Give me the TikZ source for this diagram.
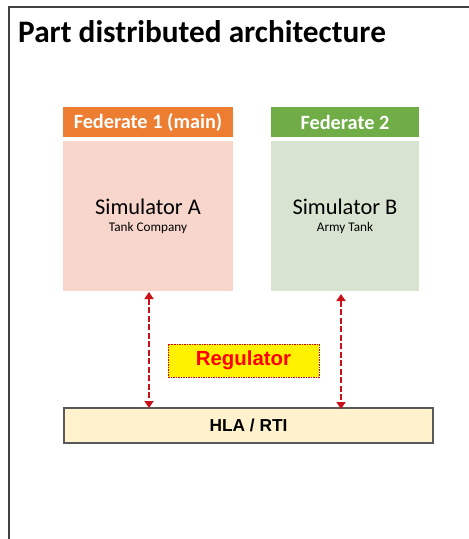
\documentclass[tikz,border=0pt]{standalone}
\usepackage{fontspec}
\setmainfont{Carlito}
\newfontfamily\arialfont{Liberation Sans}
\usetikzlibrary{arrows.meta}
\definecolor{fedorange}{HTML}{ED7D31}
\definecolor{fedgreen}{HTML}{70AD47}
\definecolor{simpink}{HTML}{F8D6CC}
\definecolor{simgreen}{HTML}{D8E4D1}
\definecolor{rtifill}{HTML}{FFF2CC}
\definecolor{linkred}{HTML}{C8101A}
\definecolor{framegray}{HTML}{404040}
\tikzset{
  px/.style={x=1pt,y=-1pt},
  header/.style={draw=none, text=white, font=\fontsize{20.3}{24}\selectfont\bfseries},
  simtitle/.style={inner sep=0pt, font=\fontsize{22.4}{26}\selectfont},
  simsub/.style={inner sep=0pt, font=\fontsize{13.2}{15}\selectfont},
  link/.style={draw=linkred, line width=2.5pt, dash pattern=on 6pt off 2.5pt,
    {Triangle[width=9pt,length=7pt]}-{Triangle[width=9pt,length=7pt]}},
}
\begin{document}
\begin{tikzpicture}[px]
\useasboundingbox (0,0) rectangle (469,539);
% page frame
\draw[framegray, line width=1.6pt] (9,539) -- (9,7) -- (469,7);
\node[anchor=base west, inner sep=0pt, font=\fontsize{31.3}{36}\selectfont\bfseries] (title) at (18,42) {Part distributed architecture};
% federate 1
\fill[fedorange] (63,107) rectangle (233,137);
\node[header] (h1) at (148,122.5) {Federate 1 (main)};
\fill[simpink] (63,141) rectangle (233,291);
\node[simtitle] (sa) at (148,207) {Simulator A};
\node[simsub] (sa2) at (148,228) {Tank Company};
% federate 2
\fill[fedgreen] (271,107) rectangle (419,137);
\node[header] (h2) at (345,122.5) {Federate 2};
\fill[simgreen] (271,141) rectangle (419,291);
\node[simtitle] (sb) at (345,207) {Simulator B};
\node[simsub] (sb2) at (345,228) {Army Tank};
% regulator
\node[draw=red!85!black, fill=yellow, line width=0.8pt, dash pattern=on 1.5pt off 1pt,
  minimum width=151pt, minimum height=33pt, inner sep=0pt,
  font=\arialfont\fontsize{20.4}{24}\selectfont\bfseries, text=red] (reg) at (243.5,360.5) {Regulator};
% RTI bar
\node[draw=gray!70!black, fill=rtifill, line width=1.2pt, minimum width=369pt, minimum height=35pt,
  inner sep=0pt, font=\arialfont\fontsize{17.3}{20}\selectfont\bfseries] (rti) at (248.5,425.5) {HLA / RTI};
% links between the simulators and the RTI
\coordinate (a1) at (149,292);
\coordinate (a2) at (149,408);
\coordinate (b1) at (341,294);
\coordinate (b2) at (341,409);
\draw[link] (a1) -- (a2);
\draw[link] (b1) -- (b2);
\end{tikzpicture}
\end{document}
